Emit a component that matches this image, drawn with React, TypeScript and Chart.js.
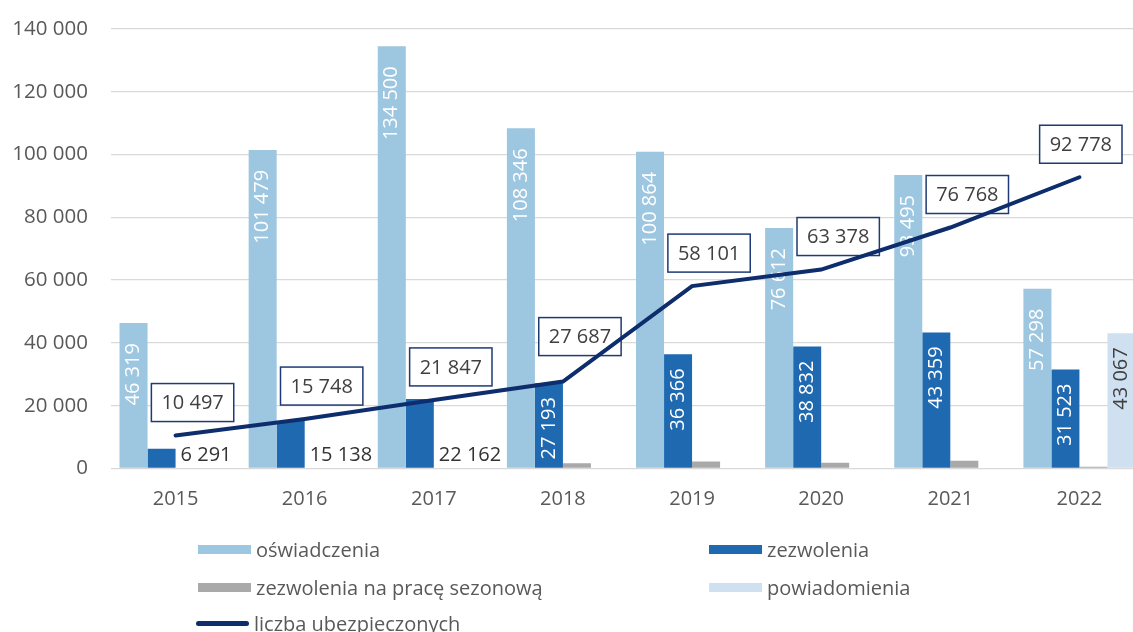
import React, { useEffect, useRef } from "react";
import { Chart, registerables } from "chart.js";

Chart.register(...registerables);

const years = ["2015", "2016", "2017", "2018", "2019", "2020", "2021", "2022"];
const oswiadczenia = [46319, 101479, 134500, 108346, 100864, 76612, 93495, 57298];
const zezwolenia = [6291, 15138, 22162, 27193, 36366, 38832, 43359, 31523];
const sezonowe = [0, 0, 0, 1700, 2250, 1800, 2450, 550];
const powiadomienia = [0, 0, 0, 0, 0, 0, 0, 43067];
const ubezpieczeni = [10497, 15748, 21847, 27687, 58101, 63378, 76768, 92778];

const seriesNames = [
  "oświadczenia",
  "zezwolenia",
  "zezwolenia na pracę sezonową",
  "powiadomienia",
  "liczba ubezpieczonych",
];
const colors = ["#9DC6E0", "#1F69B1", "#A9A9A9", "#CFE0F1", "#0D2D6C"];

const FONT = '"Open Sans", "Noto Sans", sans-serif';
const fmt = (v: number) => String(Math.round(v)).replace(/\B(?=(\d{3})+(?!\d))/g, " ");

// label placement styling (not data)
const lineLabelNudgeY = [0, 0, 0, -12, 0, 0, 0, 0];

const labelsPlugin = {
  id: "customLabels",
  beforeDatasetDraw(chart: any, args: any) {
    if (args.index !== 4) return;
    const ctx = chart.ctx;
    ctx.save();
    ctx.font = `20px ${FONT}`;
    const barCfg = [
      { ds: 0, color: "#FFFFFF", gap: 20 },
      { ds: 1, color: "#FFFFFF", gap: 14 },
      { ds: 3, color: "#404040", gap: 14 },
    ];
    barCfg.forEach((cfg) => {
      const meta = chart.getDatasetMeta(cfg.ds);
      const values = chart.data.datasets[cfg.ds].data as number[];
      meta.data.forEach((el: any, i: number) => {
        const v = values[i];
        if (!v) return;
        const txt = fmt(v);
        const tw = ctx.measureText(txt).width;
        const h = el.base - el.y;
        if (h >= tw + 14) {
          ctx.save();
          ctx.translate(el.x, el.y + cfg.gap);
          ctx.rotate(-Math.PI / 2);
          ctx.fillStyle = cfg.color;
          ctx.textAlign = "right";
          ctx.textBaseline = "middle";
          ctx.fillText(txt, 0, 0);
          ctx.restore();
        } else {
          ctx.fillStyle = "#333333";
          ctx.textAlign = "left";
          ctx.textBaseline = "middle";
          ctx.fillText(txt, el.x + el.width / 2 + 5, el.base - 13);
        }
      });
    });
    const lmeta = chart.getDatasetMeta(4);
    const lvals = chart.data.datasets[4].data as number[];
    lmeta.data.forEach((p: any, i: number) => {
      const txt = fmt(lvals[i]);
      const tw = ctx.measureText(txt).width;
      const bw = tw + 20;
      const bh = 38;
      let cx = p.x + 17;
      cx = Math.min(cx, 1122 - bw / 2);
      const cy = p.y - 33 + lineLabelNudgeY[i];
      ctx.fillStyle = "#FFFFFF";
      ctx.fillRect(cx - bw / 2, cy - bh / 2, bw, bh);
      ctx.strokeStyle = "#1F3A74";
      ctx.lineWidth = 1.5;
      ctx.strokeRect(cx - bw / 2, cy - bh / 2, bw, bh);
      ctx.fillStyle = "#404040";
      ctx.textAlign = "center";
      ctx.textBaseline = "middle";
      ctx.fillText(txt, cx, cy + 1);
    });
    ctx.restore();
  },
};

export default function App() {
  const ref = useRef<HTMLCanvasElement | null>(null);

  useEffect(() => {
    if (!ref.current) return;
    const barCommon = {
      type: "bar" as const,
      barPercentage: 1,
      categoryPercentage: 0.868,
      borderWidth: 0,
      order: 1,
    };
    const chart = new Chart(ref.current, {
      type: "bar",
      data: {
        labels: years,
        datasets: [
          { ...barCommon, label: seriesNames[0], data: oswiadczenia, backgroundColor: colors[0] },
          { ...barCommon, label: seriesNames[1], data: zezwolenia, backgroundColor: colors[1] },
          { ...barCommon, label: seriesNames[2], data: sezonowe, backgroundColor: colors[2] },
          { ...barCommon, label: seriesNames[3], data: powiadomienia, backgroundColor: colors[3] },
          {
            type: "line" as const,
            label: seriesNames[4],
            data: ubezpieczeni,
            borderColor: colors[4],
            backgroundColor: colors[4],
            borderWidth: 4,
            pointRadius: 0,
            tension: 0,
            borderCapStyle: "round",
            order: 0,
          } as any,
        ],
      },
      options: {
        responsive: false,
        animation: false,
        layout: { padding: { top: 29, right: 2, left: 0, bottom: 0 } },
        plugins: { legend: { display: false }, tooltip: { enabled: false } },
        scales: {
          x: {
            grid: { display: false, drawTicks: false },
            border: { display: false },
            ticks: { color: "#595959", font: { family: FONT, size: 20 }, padding: 19 },
            afterFit: (s: any) => {
              s.height = 163.5;
            },
          },
          y: {
            min: 0,
            max: 140000,
            grid: {
              color: "#D9D9D9",
              lineWidth: 1.3,
              drawTicks: true,
              tickLength: 23,
              tickColor: "rgba(0,0,0,0)",
            },
            border: { display: false },
            ticks: {
              stepSize: 20000,
              color: "#595959",
              font: { family: FONT, size: 20.5 },
              padding: 0,
              callback: (v: any) => fmt(Number(v)),
            },
            afterFit: (s: any) => {
              s.width = 111;
            },
          },
        },
      },
      plugins: [labelsPlugin],
    });
    return () => chart.destroy();
  }, []);

  const legendItems = [
    { i: 0, left: 198, y: 549 },
    { i: 1, left: 709, y: 549 },
    { i: 2, left: 198, y: 587 },
    { i: 3, left: 709, y: 587 },
    { i: 4, left: 196, y: 623 },
  ];

  return (
    <div
      style={{
        position: "fixed",
        left: 0,
        top: 0,
        width: 1133,
        height: 632,
        overflow: "hidden",
        background: "#FFFFFF",
      }}
    >
      <canvas ref={ref} width={1146} height={632} style={{ display: "block" }} />
      {legendItems.map((it) => (
        <div
          key={it.i}
          style={{
            position: "absolute",
            left: it.left,
            top: it.y - 15,
            height: 30,
            display: "flex",
            alignItems: "center",
            fontFamily: FONT,
            fontSize: 20,
            color: "#595959",
            whiteSpace: "nowrap",
          }}
        >
          <span
            style={{
              display: "inline-block",
              width: 53,
              height: it.i === 4 ? 5 : 9,
              borderRadius: it.i === 4 ? 3 : 0,
              background: colors[it.i],
              marginRight: 5,
            }}
          />
          <span>{seriesNames[it.i]}</span>
        </div>
      ))}
    </div>
  );
}
